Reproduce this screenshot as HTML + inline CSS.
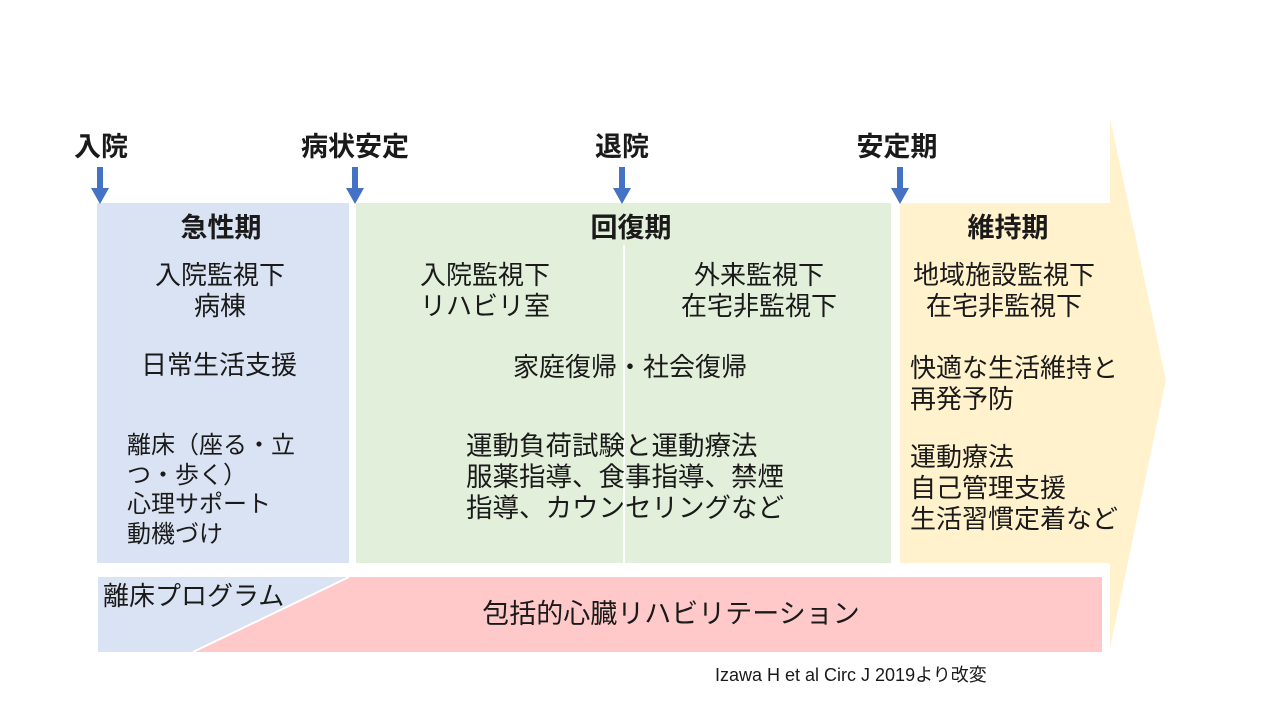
<!DOCTYPE html>
<html><head><meta charset="utf-8"><style>
body{margin:0;width:1280px;height:720px;background:#fff;position:relative;overflow:hidden;font-family:"Liberation Sans","Noto Sans CJK JP",sans-serif;color:#1a1a1a}
.t{position:absolute;white-space:nowrap;font-size:26px;line-height:31px}
.b{font-weight:bold}
.c{text-align:center;transform:translateX(-50%)}
</style></head><body>
<svg width="1280" height="720" style="position:absolute;left:0;top:0">
<polygon points="1110,118 1166,380 1110,648" fill="#fff2cc"/>
<rect x="97" y="203" width="252" height="360" fill="#dae3f3"/>
<rect x="356" y="203" width="535" height="360" fill="#e2efda"/>
<line x1="624" y1="245" x2="624" y2="563" stroke="#fff" stroke-width="2"/>
<rect x="900" y="203" width="210" height="360" fill="#fff2cc"/>
<rect x="98" y="577" width="251" height="75" fill="#dae3f3"/>
<polygon points="349,577 1102,577 1102,652 193,652" fill="#ffc9c9"/>
<line x1="349" y1="577" x2="193" y2="652" stroke="#fff" stroke-width="2"/>
<g fill="#4472c4">
<rect x="97" y="167" width="6" height="22"/><polygon points="91,188 109,188 100,204"/>
<rect x="352" y="167" width="6" height="22"/><polygon points="346,188 364,188 355,204"/>
<rect x="619" y="167" width="6" height="22"/><polygon points="613,188 631,188 622,204"/>
<rect x="897" y="167" width="6" height="22"/><polygon points="891,188 909,188 900,204"/>
</g>
</svg>
<div class="t b c" style="left:101px;top:132px;font-size:27px">入院</div>
<div class="t b c" style="left:355px;top:132px;font-size:27px">病状安定</div>
<div class="t b c" style="left:622px;top:132px;font-size:27px">退院</div>
<div class="t b c" style="left:897px;top:132px;font-size:27px">安定期</div>

<div class="t b c" style="left:221px;top:213px;font-size:27px">急性期</div>
<div class="t c" style="left:220px;top:260px;text-align:center">入院監視下<br>病棟</div>
<div class="t c" style="left:219px;top:350px">日常生活支援</div>
<div class="t" style="left:127px;top:431px;font-size:24px;line-height:29.5px">離床（座る・立<br>つ・歩く）<br>心理サポート<br>動機づけ</div>

<div class="t b c" style="left:631px;top:213px;font-size:27px">回復期</div>
<div class="t c" style="left:485px;top:260px;text-align:center">入院監視下<br>リハビリ室</div>
<div class="t c" style="left:759px;top:260px;text-align:center">外来監視下<br>在宅非監視下</div>
<div class="t c" style="left:630px;top:352px">家庭復帰・社会復帰</div>
<div class="t" style="left:466px;top:431px;font-size:26.5px">運動負荷試験と運動療法<br>服薬指導、食事指導、禁煙<br>指導、カウンセリングなど</div>

<div class="t b c" style="left:1008px;top:213px;font-size:27px">維持期</div>
<div class="t c" style="left:1004px;top:260px;text-align:center">地域施設監視下<br>在宅非監視下</div>
<div class="t" style="left:910px;top:353px">快適な生活維持と<br>再発予防</div>
<div class="t" style="left:910px;top:442px">運動療法<br>自己管理支援<br>生活習慣定着など</div>

<div class="t" style="left:103px;top:581px;font-size:26px">離床プログラム</div>
<div class="t c" style="left:671px;top:599px;font-size:27px">包括的心臓リハビリテーション</div>
<div class="t" style="left:715px;top:664px;font-size:18px;line-height:22px">Izawa H et al Circ J 2019より改変</div>
</body></html>
